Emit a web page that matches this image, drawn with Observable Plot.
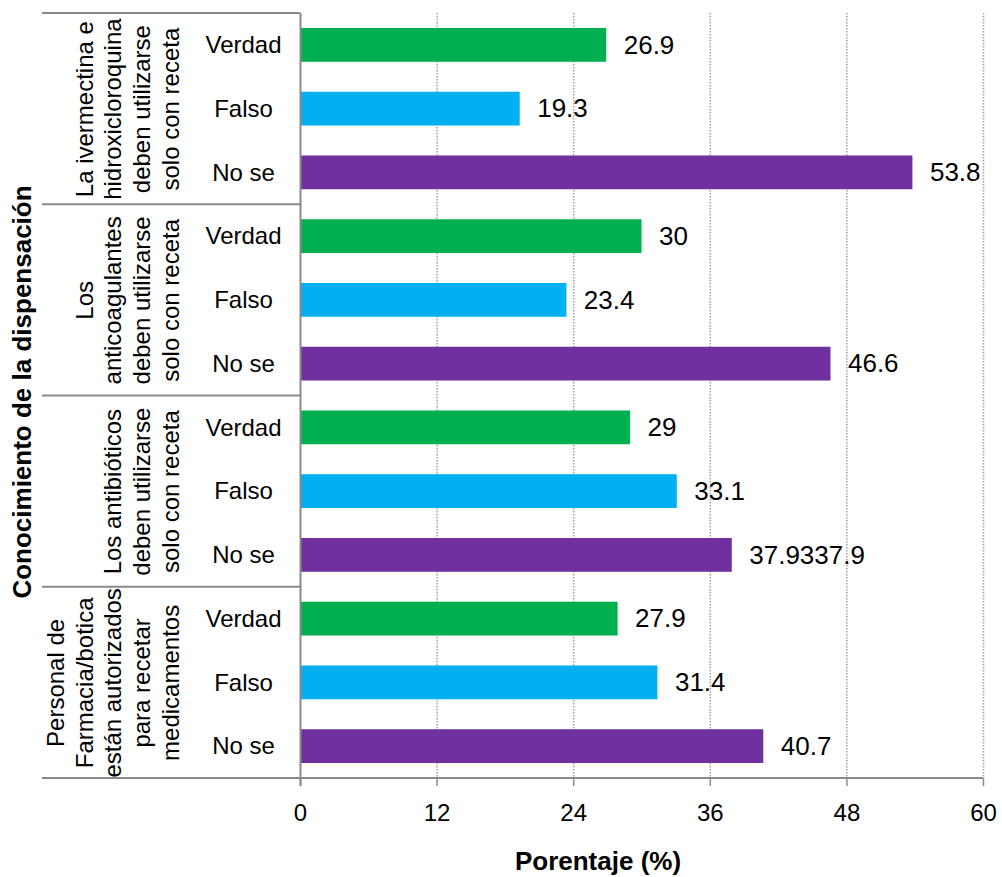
<!DOCTYPE html>
<html>
<head>
<meta charset="utf-8">
<script src="https://cdn.jsdelivr.net/npm/d3@7"></script>
<script src="https://cdn.jsdelivr.net/npm/@observablehq/plot@0.6"></script>
<style>
  html, body { margin: 0; padding: 0; background: #fff; }
  #chart svg { display: block; }
</style>
</head>
<body>
<div id="chart"></div>
<script>
// Survey statements (outer category level), one block of three answers each
const groups = [
  "La ivermectina e\nhidroxicloroquina\ndeben utilizarse\nsolo con receta",
  "Los\nanticoagulantes\ndeben utilizarse\nsolo con receta",
  "Los antibióticos\ndeben utilizarse\nsolo con receta",
  "Personal de\nFarmacia/botica\nestán autorizados\npara recetar\nmedicamentos"
];
// Answer options (inner category level)
const answers = ["Verdad", "Falso", "No se"];
const answerColors = ["#00B050", "#00B0F0", "#7030A0"];

// Percentages per statement
const verdad = [26.9, 30, 29, 27.9];
const falso = [19.3, 23.4, 33.1, 31.4];
const noSe = [53.8, 46.6, 37.93, 40.7];
// Printed value labels for the "No se" bars
const noSeLabels = ["53.8", "46.6", "37.9337.9", "40.7"];

const xTicks = [0, 12, 24, 36, 48, 60];
const yTitle = "Conocimiento de la dispensación";
const xTitle = "Porentaje (%)";

const series = [verdad, falso, noSe];
const key = (g, a) => `${g}|${a}`;

const rows = [];
groups.forEach((g, gi) => {
  answers.forEach((a, ai) => {
    const value = series[ai][gi];
    rows.push({
      key: key(gi, a),
      answer: a,
      value,
      label: a === "No se" ? noSeLabels[gi] : String(value)
    });
  });
});
const yDomain = rows.map(d => d.key);

const padInner = 0.47;
const padOuter = padInner / 2;
const gray = "#8a8a8a";
const font = "'Liberation Sans', Arial, Helvetica, sans-serif";

const chart = Plot.plot({
  width: 1002,
  height: 877,
  marginLeft: 300,
  marginRight: 19,
  marginTop: 13,
  marginBottom: 99,
  style: { fontFamily: font, color: "#000", background: "#fff" },
  x: { domain: [0, 60], axis: null },
  y: { domain: yDomain, paddingInner: padInner, paddingOuter: padOuter, align: 0.5, round: false, axis: null },
  color: { domain: answers, range: answerColors },
  marks: [
    // dotted vertical gridlines
    Plot.ruleX(xTicks.filter(t => t > 0), {
      stroke: "#a0a0a0", strokeWidth: 1.5, strokeDasharray: "1.5,1.5"
    }),
    Plot.barX(rows, { x: "value", y: "key", fill: "answer" }),
    // value axis line at zero, extended down to the tick length
    Plot.ruleX([0], { stroke: gray, strokeWidth: 2, insetBottom: -8 }),
    // tick marks below the value axis (labels drawn separately)
    Plot.axisX({
      ticks: xTicks, tickSize: 8, stroke: gray, strokeWidth: 1.5,
      text: null, label: null
    }),
    // tick labels
    Plot.text(xTicks, {
      x: d => d, text: d => String(d), frameAnchor: "bottom", dy: 25,
      lineAnchor: "top", textAnchor: "middle", fontSize: 24, fill: "#000"
    }),
    // answer labels (inner category level)
    Plot.text(rows, {
      y: "key", text: "answer", frameAnchor: "left", dx: -57,
      textAnchor: "middle", lineAnchor: "middle", fontSize: 24, fill: "#000"
    }),
    // value labels
    Plot.text(rows, {
      x: "value", y: "key", text: "label", textAnchor: "start",
      dx: 17, fontSize: 26, fill: "#000"
    }),
    // statement labels, rotated, centred on each block
    Plot.text(groups, {
      y: (d, i) => key(i, "Falso"), text: d => d,
      frameAnchor: "left", dx: -122, rotate: -90,
      lineAnchor: "bottom", lineHeight: 1.19, textAnchor: "middle",
      fontSize: 24, fill: "#000"
    }),
    // axis titles
    Plot.text([yTitle], {
      frameAnchor: "left", dx: -278, dy: -4, rotate: -90, lineAnchor: "middle",
      textAnchor: "middle", fontSize: 26, fontWeight: "bold", fill: "#000"
    }),
    Plot.text([xTitle], {
      frameAnchor: "bottom", dx: -44, dy: 91, lineAnchor: "bottom",
      textAnchor: "middle", fontSize: 26, fontWeight: "bold", fill: "#000"
    })
  ]
});

document.getElementById("chart").appendChild(chart);

// Block separators of the two-level category axis, derived from the y scale
const ys = chart.scale("y");
const xs = chart.scale("x");
const step = ys.step ?? (ys.apply(yDomain[1]) - ys.apply(yDomain[0]));
const gap = step * padInner;
const xZero = xs.apply(0);
const xMax = xs.apply(60);
const leftEdge = 42;
const bounds = groups.map((g, gi) => ys.apply(key(gi, answers[0])) - gap / 2);
const bottom = ys.apply(key(groups.length - 1, answers[answers.length - 1])) + step - gap / 2;

const svg = d3.select(chart);
const sep = svg.append("g").attr("stroke", gray).attr("stroke-width", 2);
bounds.forEach(yb => {
  sep.append("line").attr("x1", leftEdge).attr("x2", xZero).attr("y1", yb).attr("y2", yb);
});
sep.append("line").attr("x1", leftEdge).attr("x2", xMax).attr("y1", bottom).attr("y2", bottom);
</script>
</body>
</html>
